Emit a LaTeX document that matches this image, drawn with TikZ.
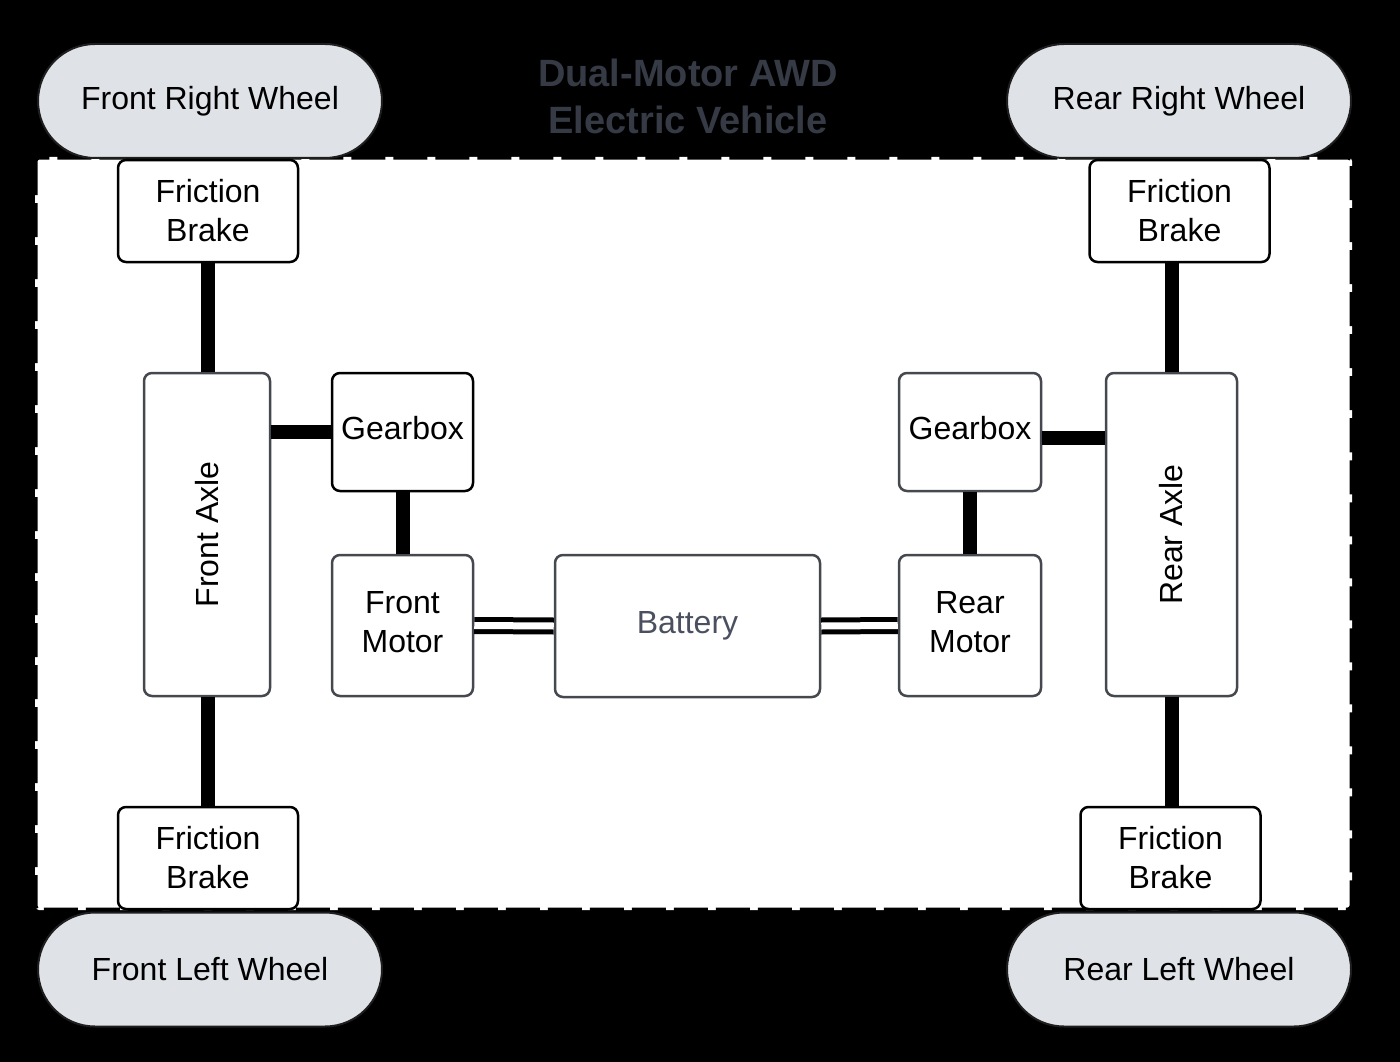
\documentclass[tikz,border=0pt]{standalone}
\usepackage{fontspec}
\setmainfont{Liberation Sans}
\definecolor{wheelfill}{HTML}{DFE2E7}
\definecolor{wheeldraw}{HTML}{1E1E1E}
\definecolor{boxgray}{HTML}{45494F}
\definecolor{titlecol}{HTML}{353A45}
\definecolor{battext}{HTML}{4B5060}
\begin{document}
\begin{tikzpicture}[x=1pt,y=-1pt,
  box/.style={rectangle, rounded corners=8pt, draw=boxgray, line width=2.5pt, fill=white,
    align=center, inner sep=0pt, font=\fontsize{32}{39}\selectfont},
  blackbox/.style={box, draw=black},
  raised/.style={text depth=8pt},
  wheel/.style={rectangle, rounded corners=57pt, draw=wheeldraw, line width=2pt, fill=wheelfill,
    minimum width=344pt, minimum height=114pt, inner sep=0pt, font=\fontsize{32}{39}\selectfont},
  shaft/.style={line width=14pt, black},
  cable/.style={line width=5pt, black, double=white, double distance=7pt},
  lbl/.style={font=\fontsize{32}{39}\selectfont, inner sep=0pt}
]
\fill[black] (0,0) rectangle (1400,1062);
\draw[fill=white, draw=black, line width=5pt, dash pattern=on 34pt off 8pt, rounded corners=4pt]
  (35,157) rectangle (1352,910);

\node[font=\fontsize{38}{47}\selectfont\bfseries, text=titlecol, align=center] (title) at (688,96)
  {Dual-Motor AWD\\Electric Vehicle};

% wheels
\node[wheel] (frw) at (210,101) {Front Right Wheel};
\node[wheel] (flw) at (210,969.5) {Front Left Wheel};
\node[wheel] (rrw) at (1179,101) {Rear Right Wheel};
\node[wheel] (rlw) at (1179,969.5) {Rear Left Wheel};

% brakes
\node[blackbox, minimum width=180pt, minimum height=102pt] (fbtl) at (208,211) {Friction\\Brake};
\node[blackbox, minimum width=180pt, minimum height=102pt] (fbbl) at (208,858) {Friction\\Brake};
\node[blackbox, minimum width=180pt, minimum height=102pt] (fbtr) at (1179.5,211) {Friction\\Brake};
\node[blackbox, minimum width=180pt, minimum height=102pt] (fbbr) at (1170.5,858) {Friction\\Brake};

% axles
\node[box, minimum width=126pt, minimum height=323pt] (fa) at (207,534.5) {};
\node[lbl, rotate=90] (fatext) at (fa.center) {Front Axle};
\node[box, minimum width=131pt, minimum height=323pt] (ra) at (1171.5,534.5) {};
\node[lbl, rotate=90] (ratext) at (ra.center) {Rear Axle};

% gearboxes and motors
\node[blackbox, raised, minimum width=141pt, minimum height=118pt] (gf) at (402.5,432) {Gearbox};
\node[box, raised, minimum width=141pt, minimum height=141pt] (fm) at (402.5,625.5) {Front\\Motor};
\node[box, raised, minimum width=142pt, minimum height=118pt] (gr) at (970,432) {Gearbox};
\node[box, raised, minimum width=142pt, minimum height=141pt] (rm) at (970,625.5) {Rear\\Motor};

% battery
\node[box, minimum width=265pt, minimum height=142pt, text=battext] (bat) at (687.5,626) {Battery};

% connectors
\draw[shaft] (fbtl.south) -- (fbtl.south |- fa.north);
\draw[shaft] (fbbl.north) -- (fbbl.north |- fa.south);
\draw[shaft] (fa.east |- gf.west) -- (gf.west);
\draw[shaft] (gf.south) -- (fm.north);
\draw[shaft] (gr.south) -- (rm.north);
\draw[shaft] ([yshift=-6pt]gr.east) -- ([yshift=-6pt]gr.east -| ra.west);
\draw[shaft] (ra.north) -- (ra.north |- fbtr.south);
\draw[shaft] (ra.south) -- (ra.south |- fbbr.north);
\draw[cable] (fm.east) -- (bat.west);
\draw[cable] (bat.east) -- (rm.west);
\end{tikzpicture}
\end{document}
